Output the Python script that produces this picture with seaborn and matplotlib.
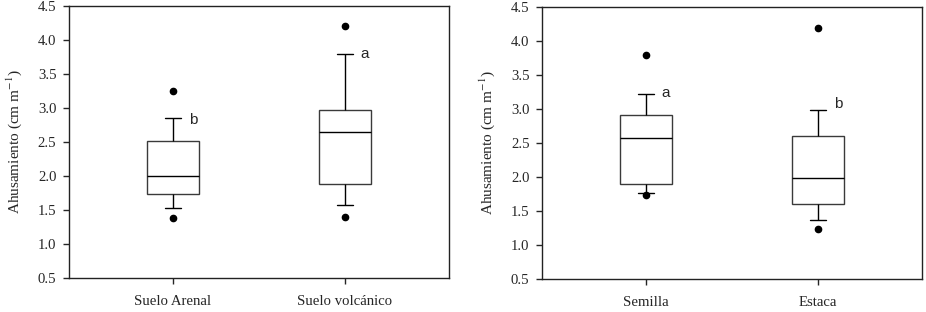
import pandas as pd
import numpy as np
import matplotlib
matplotlib.use("Agg")
import matplotlib.pyplot as plt
import seaborn as sns

# box summaries (SigmaPlot style: whiskers + outlying points)
soil = ["Suelo Arenal", "Suelo volcánico"]
soil_q1 = [1.74, 1.88]
soil_med = [2.00, 2.65]
soil_q3 = [2.52, 2.97]
soil_wlo = [1.53, 1.57]
soil_whi = [2.86, 3.80]
soil_out_lo = [1.38, 1.39]
soil_out_hi = [3.25, 4.20]
soil_letters = ["b", "a"]
soil_letter_y = [2.77, 3.73]

origin = ["Semilla", "Estaca"]
orig_q1 = [1.89, 1.60]
orig_med = [2.57, 1.98]
orig_q3 = [2.91, 2.61]
orig_wlo = [1.77, 1.37]
orig_whi = [3.22, 2.99]
orig_out_lo = [1.73, 1.24]
orig_out_hi = [3.79, 4.19]
orig_letters = ["a", "b"]
orig_letter_y = [3.18, 3.01]

yticks = [0.5, 1.0, 1.5, 2.0, 2.5, 3.0, 3.5, 4.0, 4.5]


def build_table(cats, q1, med, q3, wlo, whi, olo, ohi):
    # nine sorted points per group: with whis=(12.5, 87.5) the quartiles,
    # whisker ends and the two outlying points land exactly on these values
    rows = []
    for i, c in enumerate(cats):
        vals = [olo[i], wlo[i], q1[i], med[i], med[i], med[i], q3[i], whi[i], ohi[i]]
        rows += [(c, v) for v in vals]
    return pd.DataFrame(rows, columns=["grupo", "ahus"])


sns.set_style("ticks")
plt.rcParams["font.family"] = ["Liberation Serif", "DejaVu Serif"]
plt.rcParams["mathtext.fontset"] = "stix"

fig = plt.figure(figsize=(9.26, 3.12), dpi=100)
ax1 = fig.add_axes([69 / 926, 1 - 278 / 312, 380 / 926, 272 / 312])
ax2 = fig.add_axes([542 / 926, 1 - 279 / 312, 380 / 926, 272 / 312])

panels = [
    (ax1, soil, build_table(soil, soil_q1, soil_med, soil_q3, soil_wlo, soil_whi,
                            soil_out_lo, soil_out_hi), soil_letters, soil_letter_y),
    (ax2, origin, build_table(origin, orig_q1, orig_med, orig_q3, orig_wlo, orig_whi,
                              orig_out_lo, orig_out_hi), orig_letters, orig_letter_y),
]

for ax, cats, df, letters, letter_y in panels:
    sns.boxplot(data=df, x="grupo", y="ahus", order=cats, ax=ax,
                width=0.30, whis=(12.5, 87.5), color="white", linecolor="black",
                linewidth=1.0, capwidths=0.09,
                boxprops=dict(edgecolor="#3a3a3a", facecolor="white", linewidth=1.0),
                medianprops=dict(color="black", linewidth=1.0),
                whiskerprops=dict(color="black", linewidth=1.0),
                capprops=dict(color="black", linewidth=1.0),
                flierprops=dict(marker="o", markerfacecolor="black",
                                markeredgecolor="black", markersize=4.5))
    for i, (lt, ly) in enumerate(zip(letters, letter_y)):
        ax.text(i + 0.115, ly, lt, ha="center", va="baseline", fontsize=11,
                family=["Liberation Sans", "DejaVu Sans"])
    ax.set_xlim(-0.605, 1.605)
    ax.set_ylim(0.5, 4.5)
    ax.set_yticks(yticks)
    ax.set_yticklabels([f"{t:.1f}" for t in yticks])
    ax.set_xlabel("")
    ax.set_ylabel("Ahusamiento (cm m$^{-1}$)", fontsize=11, labelpad=10)
    ax.tick_params(axis="y", direction="out", length=4, width=1, pad=5, labelsize=10.6)
    ax.tick_params(axis="x", direction="out", length=4, width=1, pad=8.5, labelsize=10.6)
    for sp in ax.spines.values():
        sp.set_visible(True)
        sp.set_color("#222222")
        sp.set_linewidth(1.0)

fig.savefig("out.png", dpi=100)
